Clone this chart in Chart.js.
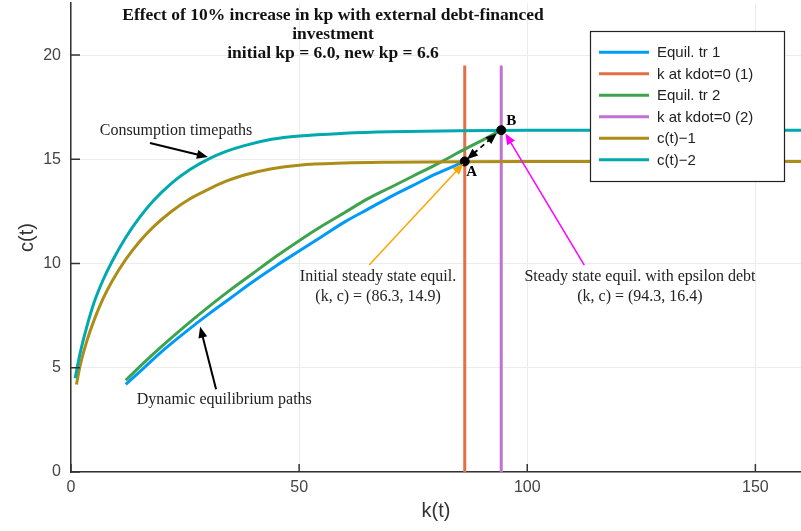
<!DOCTYPE html>
<html>
<head>
<meta charset="utf-8">
<script src="https://cdn.jsdelivr.net/npm/chart.js@4.4.1/dist/chart.umd.min.js"></script>
<style>
  html, body { margin: 0; padding: 0; background: #fff; }
  #wrap { width: 801px; height: 531px; }
</style>
</head>
<body>
<div id="wrap"><canvas id="chart-kc" width="801" height="531"></canvas></div>
<script>
// equilibrium trajectory 1 (initial kp)
const kTr1 = [12, 16, 20, 25, 30, 35, 40, 45, 50, 55, 60, 65, 70, 75, 80, 86.3];
const cTr1 = [4.2, 5.0, 5.8, 6.7, 7.55, 8.35, 9.15, 9.9, 10.6, 11.3, 12.0, 12.6, 13.2, 13.75, 14.3, 14.9];
// equilibrium trajectory 2 (new kp)
const kTr2 = [12, 16, 20, 25, 30, 35, 40, 45, 50, 55, 60, 65, 70, 75, 80, 86, 90, 94.3];
const cTr2 = [4.4, 5.25, 6.05, 7.0, 7.9, 8.75, 9.55, 10.35, 11.1, 11.8, 12.45, 13.1, 13.65, 14.2, 14.75, 15.45, 15.9, 16.4];
// consumption time paths
const kC1 = [1.2, 2, 3.5, 5, 7, 9, 12, 15, 18, 22, 26, 30, 34, 38, 44, 50, 60, 70, 85, 100, 130, 160];
const cC1 = [4.2, 5.1, 6.3, 7.25, 8.3, 9.15, 10.2, 11.05, 11.75, 12.5, 13.1, 13.55, 13.95, 14.25, 14.55, 14.72, 14.82, 14.86, 14.89, 14.9, 14.9, 14.9];
const kC2 = [0.9, 2, 3.5, 5, 7, 9, 12, 15, 18, 22, 26, 30, 34, 38, 44, 50, 60, 70, 85, 100, 130, 160];
const cC2 = [4.5, 5.7, 7.0, 8.1, 9.2, 10.1, 11.25, 12.2, 13.0, 13.85, 14.5, 15.0, 15.38, 15.66, 15.96, 16.12, 16.25, 16.32, 16.37, 16.39, 16.4, 16.4];
// kdot = 0 lines
const kSS = [86.3, 94.3];
const cVert = [0, 19.5];
// steady states A and B
const eqK = [86.3, 94.3];
const eqC = [14.9, 16.4];

const labels = ['Equil. tr 1', 'k at kdot=0 (1)', 'Equil. tr 2', 'k at kdot=0 (2)', 'c(t)\u22121', 'c(t)\u22122'];
const colors = ['#009af9', '#e26f46', '#3da44d', '#c271d2', '#ac8d18', '#00a9ad'];

const titleLines = ['Effect of 10% increase in kp with external debt-financed', 'investment', 'initial kp = 6.0, new kp = 6.6'];

const SERIF = '"Liberation Serif", "DejaVu Serif", serif';
const SANS = '"Liberation Sans", Arial, sans-serif';

const toXY = (ks, cs) => ks.map((k, i) => ({ x: k, y: cs[i] }));
const vline = k => cVert.map(c => ({ x: k, y: c }));

// annotation text + arrows, in data units
const notes = [
    { lines: ['Consumption timepaths'], at: [23.0, 16.36], arrow: [17.3, 15.78, 30.0, 15.11], color: '#000', lw: 2 },
    { lines: ['Dynamic equilibrium paths'], at: [33.6, 3.45], arrow: [31.8, 3.97, 28.3, 6.97], color: '#000', lw: 2 },
    { lines: ['Initial steady state equil.', '(k, c) = (86.3, 14.9)'], at: [67.3, 8.9], arrow: [65.35, 9.93, 86.0, 14.8], color: '#ffa500', lw: 1.5 },
    { lines: ['Steady state equil. with epsilon debt', '(k, c) = (94.3, 16.4)'], at: [124.7, 8.9], arrow: [112.5, 9.93, 95.2, 16.24], color: '#ff00ff', lw: 1.5 }
];

function drawArrow(ctx, x1, y1, x2, y2, color, lw, dashed, both) {
    const ang = Math.atan2(y2 - y1, x2 - x1);
    const hl = 11, hw = 4.5;
    ctx.save();
    ctx.strokeStyle = color;
    ctx.fillStyle = color;
    ctx.lineWidth = lw;
    if (dashed) ctx.setLineDash([5, 4]);
    ctx.beginPath();
    ctx.moveTo(x1 + (both ? Math.cos(ang) * hl * 0.8 : 0), y1 + (both ? Math.sin(ang) * hl * 0.8 : 0));
    ctx.lineTo(x2 - Math.cos(ang) * hl * 0.8, y2 - Math.sin(ang) * hl * 0.8);
    ctx.stroke();
    ctx.setLineDash([]);
    const head = (tx, ty, a) => {
        ctx.beginPath();
        ctx.moveTo(tx, ty);
        ctx.lineTo(tx - hl * Math.cos(a) + hw * Math.sin(a), ty - hl * Math.sin(a) - hw * Math.cos(a));
        ctx.lineTo(tx - hl * Math.cos(a) - hw * Math.sin(a), ty - hl * Math.sin(a) + hw * Math.cos(a));
        ctx.closePath();
        ctx.fill();
    };
    head(x2, y2, ang);
    if (both) head(x1, y1, ang + Math.PI);
    ctx.restore();
}

const overlayPlugin = {
    id: 'overlay',
    afterDraw(chart) {
        const { ctx, chartArea: area, scales: { x, y } } = chart;
        const px = v => x.getPixelForValue(v);
        const py = v => y.getPixelForValue(v);
        ctx.save();

        // inward tick marks
        ctx.strokeStyle = '#333';
        ctx.lineWidth = 1.5;
        ctx.beginPath();
        x.ticks.forEach(t => { ctx.moveTo(px(t.value), area.bottom); ctx.lineTo(px(t.value), area.bottom - 8); });
        y.ticks.forEach(t => { ctx.moveTo(area.left, py(t.value)); ctx.lineTo(area.left + 9, py(t.value)); });
        ctx.stroke();

        // title
        ctx.fillStyle = '#111';
        ctx.font = 'bold 17.5px ' + SERIF;
        ctx.textAlign = 'center';
        ctx.textBaseline = 'middle';
        titleLines.forEach((s, i) => ctx.fillText(s, 333, 15 + i * 19));

        // annotations
        ctx.font = '16px ' + SERIF;
        ctx.fillStyle = '#222';
        notes.forEach(n => {
            const a = n.arrow;
            drawArrow(ctx, px(a[0]), py(a[1]), px(a[2]), py(a[3]), n.color, n.lw, false, false);
            n.lines.forEach((s, i) => ctx.fillText(s, px(n.at[0]), py(n.at[1]) + (i - (n.lines.length - 1) / 2) * 20));
        });

        // dashed move from A to B
        drawArrow(ctx, px(86.8), py(15.0), px(93.3), py(16.24), '#000', 1.8, true, true);

        ctx.font = 'bold 15px ' + SERIF;
        ctx.fillStyle = '#000';
        ctx.fillText('A', px(eqK[0]) + 7, py(eqC[0]) + 11);
        ctx.fillText('B', px(eqK[1]) + 10, py(eqC[1]) - 9);

        // legend box
        const bx = area.right - 211, by = area.top + 28, bw = 194, bh = 150;
        ctx.fillStyle = '#fff';
        ctx.fillRect(bx, by, bw, bh);
        ctx.strokeStyle = '#222';
        ctx.lineWidth = 1.2;
        ctx.strokeRect(bx + 0.5, by + 0.5, bw, bh);
        ctx.font = '15px ' + SANS;
        ctx.textAlign = 'left';
        labels.forEach((s, i) => {
            const ry = by + 21.3 + i * 21.5;
            ctx.strokeStyle = colors[i];
            ctx.lineWidth = 3;
            ctx.beginPath();
            ctx.moveTo(bx + 9, ry);
            ctx.lineTo(bx + 59, ry);
            ctx.stroke();
            ctx.fillStyle = '#222';
            ctx.fillText(s, bx + 67, ry + 1);
        });
        ctx.restore();
    }
};

const lineSet = (i, data, order) => ({
    label: labels[i], data, borderColor: colors[i], backgroundColor: colors[i],
    borderWidth: 3, pointRadius: 0, showLine: true, cubicInterpolationMode: 'monotone', order
});

const ctxKC = document.getElementById('chart-kc').getContext('2d');
new Chart(ctxKC, {
    type: 'scatter',
    data: {
        datasets: [
            lineSet(0, toXY(kTr1, cTr1), 6),
            lineSet(1, vline(kSS[0]), 5),
            lineSet(2, toXY(kTr2, cTr2), 4),
            lineSet(3, vline(kSS[1]), 3),
            lineSet(4, toXY(kC1, cC1), 2),
            lineSet(5, toXY(kC2, cC2), 1),
            { label: '', data: toXY(eqK, eqC), pointRadius: 4.5, backgroundColor: '#000', borderColor: '#000', showLine: false, order: 0 }
        ]
    },
    plugins: [overlayPlugin],
    options: {
        responsive: false,
        animation: false,
        devicePixelRatio: 1,
        layout: { autoPadding: false, padding: { top: 3, right: 0, left: 0, bottom: 0 } },
        plugins: { legend: { display: false }, tooltip: { enabled: false } },
        scales: {
            x: {
                type: 'linear', min: 0, max: 160,
                afterFit: s => { s.height = 59; s.paddingLeft = 0; s.paddingRight = 0; },
                ticks: { stepSize: 50, includeBounds: false, padding: 6, color: '#444', font: { family: SANS, size: 16 } },
                grid: { color: '#ececec', drawTicks: false },
                border: { color: '#333', width: 1.5 },
                title: { display: true, text: 'k(t)', color: '#333', font: { family: SANS, size: 20 }, padding: { top: 0, bottom: 8 } }
            },
            y: {
                type: 'linear', min: 0, max: 22.5,
                afterFit: s => { s.width = 71; s.paddingTop = 0; s.paddingBottom = 0; },
                ticks: { stepSize: 5, includeBounds: false, padding: 10, color: '#444', font: { family: SANS, size: 16 } },
                grid: { color: '#ececec', drawTicks: false },
                border: { color: '#333', width: 1.5 },
                title: { display: true, text: 'c(t)', color: '#333', font: { family: SANS, size: 20 }, padding: { top: 15, bottom: 0 } }
            }
        }
    }
});
</script>
</body>
</html>
